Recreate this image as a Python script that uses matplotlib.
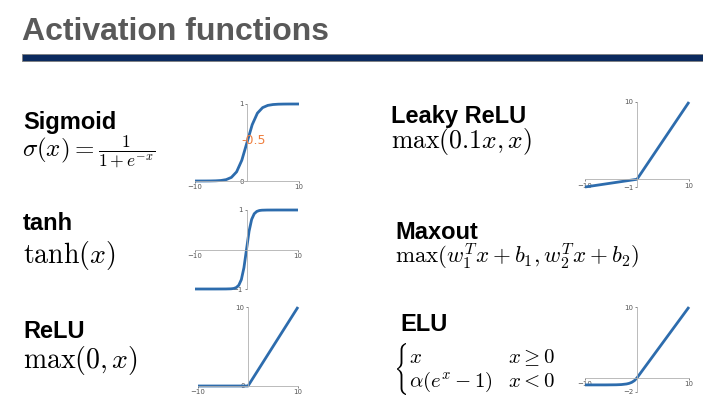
import matplotlib.pyplot as plt
from matplotlib.patches import Rectangle, PathPatch
from matplotlib.textpath import TextPath
from matplotlib.transforms import Affine2D

plt.rcParams["mathtext.fontset"] = "cm"

W, H = 703, 403

# curve samples for the small plots
sig_x = [-10, -9, -8, -7, -6, -5, -4, -3, -2, -1, 0, 1, 2, 3, 4, 5, 6, 7, 8, 9, 10]
sig_y = [0.00005, 0.0001, 0.0003, 0.0009, 0.0025, 0.0067, 0.018, 0.047, 0.119, 0.269,
         0.5, 0.731, 0.881, 0.953, 0.982, 0.993, 0.9975, 0.9991, 0.9997, 0.9999, 1.0]

tanh_x = [-10, -6, -4, -3, -2.5, -2, -1.5, -1, -0.5, 0, 0.5, 1, 1.5, 2, 2.5, 3, 4, 6, 10]
tanh_y = [-1.0, -1.0, -0.999, -0.995, -0.987, -0.964, -0.905, -0.762, -0.462, 0.0,
          0.462, 0.762, 0.905, 0.964, 0.987, 0.995, 0.999, 1.0, 1.0]

relu_x = [-10, 0, 10]
relu_y = [0, 0, 10]

leaky_x = [-10, 0, 10]
leaky_y = [-1, 0, 10]

elu_x = [-10, -6, -4, -3, -2, -1.5, -1, -0.5, 0, 10]
elu_y = [-1.0, -0.998, -0.982, -0.950, -0.865, -0.777, -0.632, -0.393, 0, 10]

CURVE = "#2d6cad"


def px(x, y):
    return x / W, 1 - y / H


def mini_plot(fig, box, xs, ys, ylim):
    # box = (left, top, right, bottom) in pixels
    l, t, r, b = box
    ax = fig.add_axes([l / W, 1 - b / H, (r - l) / W, (b - t) / H])
    ax.plot(xs, ys, color=CURVE, lw=2.0, clip_on=False, solid_capstyle="butt")
    ax.set_xlim(-10, 10)
    ax.set_ylim(*ylim)
    for s in ("top", "right"):
        ax.spines[s].set_visible(False)
    ax.spines["left"].set_position(("data", 0))
    ax.spines["bottom"].set_position(("data", 0))
    for s in ("left", "bottom"):
        ax.spines[s].set_color("#b0b0b0")
        ax.spines[s].set_linewidth(0.6)
    ax.set_xticks([-10, 10])
    ax.set_yticks(list(ylim))
    ax.tick_params(labelsize=5, colors="#555555", length=1.5, width=0.5, pad=1)
    ax.patch.set_alpha(0)
    return ax


def brace(fig, box):
    # tall thin curly brace squeezed into a pixel box (left, top, right, bottom)
    l, t, r, b = box
    tp = TextPath((0, 0), r"$\{$", size=1)
    ext = tp.get_extents()
    tr = (Affine2D().translate(-ext.x0, -ext.y0)
          .scale((r - l) / ext.width / W, (b - t) / ext.height / H)
          .translate(l / W, 1 - b / H) + fig.transFigure)
    fig.patches.append(PathPatch(tp, transform=tr, facecolor="black", lw=0))


fig = plt.figure(figsize=(7.03, 4.03), dpi=100)

# title and bar
fig.text(*px(22, 40), "Activation functions", fontsize=23, fontweight="bold",
         color="#595959", family="Liberation Sans", va="baseline")
fig.patches.append(Rectangle(px(22, 61), (W - 22) / W, 7 / H, transform=fig.transFigure,
                             facecolor="#0b2a5e", edgecolor="#7f7f7f", lw=0.6))

bold = dict(fontsize=17, fontweight="bold", family="Liberation Sans", va="baseline")

# left column
fig.text(*px(23, 129), "Sigmoid", **bold)
fig.text(*px(22, 157), r"$\sigma(x)=\frac{1}{1+e^{-x}}$", fontsize=18, va="baseline")
fig.text(*px(23, 230), "tanh", **bold)
fig.text(*px(23, 263), r"$\tanh(x)$", fontsize=20, va="baseline")
fig.text(*px(23, 338), "ReLU", **bold)
fig.text(*px(23, 368), r"$\max(0,x)$", fontsize=20, va="baseline")

# right column
fig.text(*px(391, 123), "Leaky ReLU", **bold)
fig.text(*px(391, 148), r"$\max(0.1x,x)$", fontsize=18.5, va="baseline")
fig.text(*px(395, 239), "Maxout", **bold)
fig.text(*px(395, 264), r"$\max(w_1^Tx+b_1,w_2^Tx+b_2)$", fontsize=16.5, va="baseline")
fig.text(*px(400, 331), "ELU", **bold)
brace(fig, (397, 343, 406, 395))
fig.text(*px(409, 363), r"$x$", fontsize=15, va="baseline")
fig.text(*px(508, 363), r"$x\geq 0$", fontsize=15, va="baseline")
fig.text(*px(409, 387), r"$\alpha(e^x-1)$", fontsize=15, va="baseline")
fig.text(*px(508, 387), r"$x<0$", fontsize=15, va="baseline")

# small plots
ax = mini_plot(fig, (195, 104, 299, 181), sig_x, sig_y, (0, 1))
ax.text(-1.0, 0.53, "-0.5", color="#ef7d3c", fontsize=9, va="center")
mini_plot(fig, (195, 210, 298, 289), tanh_x, tanh_y, (-1, 1))
mini_plot(fig, (198, 307, 298, 386), relu_x, relu_y, (0, 10))
mini_plot(fig, (585, 102, 689, 187), leaky_x, leaky_y, (-1, 10))
mini_plot(fig, (585, 307, 689, 392), elu_x, elu_y, (-2, 10))

fig.savefig("out.png", dpi=100)
